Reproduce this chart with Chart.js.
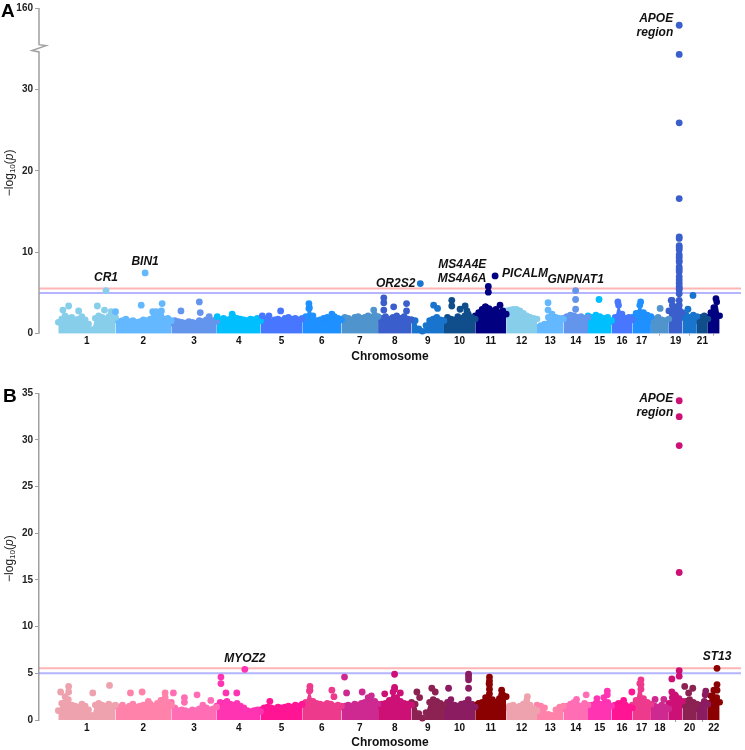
<!DOCTYPE html>
<html>
<head>
<meta charset="utf-8">
<script src="https://cdn.jsdelivr.net/npm/chart.js@4.4.1/dist/chart.umd.min.js"></script>
<style>
    html, body { margin: 0; padding: 0; background: #fff; }
    #wrap { position: relative; width: 745px; height: 750px; }
    canvas { position: absolute; left: 0; }
</style>
</head>
<body>
<div id="wrap">
    <canvas id="chartA" width="745" height="372" style="top:0"></canvas>
    <canvas id="chartB" width="745" height="378" style="top:372px"></canvas>
</div>
<script>
// ---- data ----
const chromosomes = ['1','2','3','4','5','6','7','8','9','10','11','12','13','14','15','16','17','18','19','20','21','22'];
const chrLengthMb = [249, 243, 198, 191, 181, 171, 159, 146, 141, 136, 135, 134, 115, 107, 103, 90, 81, 78, 59, 63, 48, 51];
const xLabelsShownA = [1,2,3,4,5,6,7,8,9,10,11,12,13,14,15,16,17,19,21];
const xLabelsShownB = [1,2,3,4,5,6,7,8,9,10,11,12,13,14,15,16,17,18,20,22];
const yTicksA = [0, 10, 20, 30, 160];
const yTicksB = [0, 5, 10, 15, 20, 25, 30, 35];
const thresholds = [5.55, 5.0];

// upper edge of the dense cloud of SNPs, sampled evenly along each chromosome (-log10 p)
const bandA = [
    [1.4, 1.8, 2.2, 1.9, 2.0, 1.7, 1.8, 2.1, 1.7, 1.2, 0.5, 1.9, 2.2, 2.0, 1.8, 2.1, 1.9, 2.0],
    [1.7, 1.5, 1.6, 1.8, 1.5, 1.6, 1.4, 1.5, 1.7, 1.6, 1.8, 2.0, 1.9, 2.2, 1.8, 1.9, 1.6],
    [1.3, 1.6, 1.5, 1.4, 1.3, 1.5, 1.4, 1.3, 1.6, 1.5, 1.7, 1.4, 1.6, 1.5],
    [1.8, 1.6, 1.9, 1.7, 1.8, 2.0, 1.9, 1.8, 1.7, 1.6, 1.8, 1.7, 1.9, 1.6],
    [1.6, 1.8, 1.7, 1.5, 1.7, 1.8, 1.6, 1.9, 2.0, 1.8, 1.9, 1.7, 1.8],
    [1.9, 2.1, 3.2, 2.2, 1.6, 1.7, 1.9, 2.0, 1.8, 2.1, 1.9, 1.7],
    [1.8, 2.0, 1.9, 1.7, 2.0, 2.1, 1.9, 2.0, 2.2, 2.0, 2.3, 2.1],
    [2.0, 1.9, 2.1, 1.8, 2.0, 2.2, 1.9, 2.1, 1.8, 1.7],
    [1.7, 1.6, 0.6, 0.3, 1.0, 1.6, 1.8, 2.0, 1.7, 1.6],
    [1.6, 2.0, 1.8, 1.7, 2.1, 1.9, 2.2, 2.4, 2.0, 1.8],
    [2.2, 2.6, 3.0, 3.3, 3.1, 2.8, 3.0, 2.6, 2.8, 2.4],
    [2.8, 2.9, 3.0, 3.0, 2.8, 2.5, 2.2, 2.0, 1.9, 1.8],
    [0.8, 1.0, 1.2, 2.0, 2.4, 2.0, 1.9, 1.8],
    [1.9, 2.1, 2.3, 2.2, 2.0, 2.1, 1.9, 2.0],
    [2.2, 2.0, 2.3, 2.1, 1.9, 2.0, 1.6],
    [1.5, 2.0, 3.5, 2.4, 1.9, 2.0, 1.7],
    [2.0, 2.5, 3.5, 2.6, 2.3, 2.1],
    [1.6, 1.8, 2.0, 1.7, 1.6, 1.8],
    [2.8, 3.5, 3.3, 3.0, 2.6],
    [2.0, 2.3, 2.0, 2.3, 2.1],
    [1.6, 2.0, 2.2, 1.8],
    [2.0, 2.6, 3.2, 3.9, 2.2]
];
const bandB = [
    [1.0, 1.8, 2.5, 2.2, 1.6, 1.5, 1.4, 1.7, 1.5, 1.1, 0.5, 1.6, 1.8, 1.6, 1.5, 1.7, 1.5, 1.6],
    [1.5, 1.4, 1.6, 1.3, 1.5, 1.7, 1.4, 1.5, 1.6, 1.4, 1.7, 1.5, 1.8, 2.1, 1.7, 1.9, 1.6],
    [1.9, 1.3, 1.0, 1.1, 1.0, 0.9, 1.1, 1.0, 1.2, 1.6, 1.3, 1.1, 1.2, 1.4],
    [1.5, 1.9, 1.8, 2.0, 1.7, 1.6, 1.8, 1.5, 1.3, 1.0, 0.9, 1.0, 1.1, 0.9],
    [1.1, 1.3, 1.4, 1.3, 1.2, 1.4, 1.3, 1.4, 1.5, 1.4, 1.6, 1.5, 1.7],
    [1.6, 1.9, 3.1, 2.0, 1.8, 1.7, 1.6, 1.8, 1.7, 1.5, 1.6, 1.5],
    [1.4, 1.5, 1.6, 1.5, 1.7, 1.6, 1.8, 1.9, 2.4, 2.6, 2.0, 1.7],
    [1.5, 1.7, 1.8, 2.1, 3.0, 2.4, 2.0, 1.8, 1.7, 1.6],
    [1.9, 1.7, 0.7, 0.2, 0.8, 1.9, 2.2, 2.0, 1.8, 1.6],
    [1.5, 1.9, 2.2, 1.6, 1.5, 1.7, 1.8, 2.2, 1.7, 1.4],
    [1.6, 1.8, 1.9, 2.4, 3.9, 2.2, 1.9, 2.3, 2.7, 2.5],
    [1.3, 1.5, 1.6, 1.4, 1.5, 1.7, 2.1, 1.6, 1.2, 1.0],
    [1.6, 1.5, 1.3, 0.6, 0.5, 1.1, 1.4, 1.5],
    [1.2, 1.5, 1.7, 1.9, 1.6, 1.5, 1.8, 1.6],
    [1.3, 1.6, 1.8, 1.7, 2.4, 1.9, 1.5],
    [1.5, 1.6, 1.8, 1.7, 1.6, 1.4, 1.3],
    [1.6, 2.1, 3.9, 2.3, 1.9, 1.7],
    [1.3, 1.5, 1.4, 1.6, 1.4, 1.2],
    [1.8, 2.4, 2.6, 2.3, 2.0],
    [1.6, 2.0, 2.2, 1.9, 1.7],
    [1.2, 1.6, 2.0, 1.7],
    [1.8, 2.6, 3.2, 2.4, 1.9]
];

// single SNPs standing out above the cloud: [chromosome, position Mb, -log10 p]
const hitsA = [
    [1, 20, 2.9], [1, 45, 3.4], [1, 88.5, 2.8], [1, 170, 3.4], [1, 201, 2.9], [1, 207.8, 5.3], [1, 230, 2.7],
    [2, 0, 2.7], [2, 112, 3.5], [2, 129, 7.46], [2, 162, 2.7], [2, 177, 2.7], [2, 200, 2.8], [2, 203, 3.7],
    [3, 42, 2.8], [3, 122, 3.9], [3, 126, 2.6], [3, 165, 2.1],
    [4, 2, 2.1], [4, 67, 2.4],
    [5, 7, 2.2], [5, 36, 2.2], [5, 87, 2.8],
    [6, 29, 3.7], [6, 29, 3.1], [6, 129, 2.4],
    [7, 140, 2.9],
    [8, 25, 4.4], [8, 25, 3.8], [8, 25, 2.9], [8, 68, 3.3], [8, 124, 3.7], [8, 124, 2.8],
    [9, 38, 6.16], [9, 96, 3.5], [9, 113, 3.1],
    [10, 34, 4.1], [10, 34, 3.4], [10, 70, 3.0], [10, 92, 3.4], [10, 100, 2.8],
    [11, 44, 3.3], [11, 57, 5.8], [11, 57, 5.1], [11, 86.5, 7.1], [11, 108, 3.5],
    [13, 48, 3.8], [13, 48, 2.9],
    [14, 53, 5.3], [14, 53, 4.2], [14, 53, 3.0],
    [15, 48, 4.2],
    [16, 27, 3.9],
    [17, 36, 3.9],
    [18, 40, 3.1],
    [19, 10, 4.1], [19, 14, 4.1],
    [19, 45, 107], [19, 45, 34.3], [19, 45, 25.9], [19, 45, 16.6], [19, 45, 11.9], [19, 45, 11.7],
    [19, 45, 10.8], [19, 45, 10.6], [19, 45, 10.3], [19, 45, 9.7], [19, 45, 9.4], [19, 45, 9.0],
    [19, 45, 8.8], [19, 45, 8.2], [19, 45, 7.9], [19, 45, 7.6], [19, 45, 7.0], [19, 45, 6.6],
    [19, 45, 6.2], [19, 45, 5.8], [19, 45, 5.6], [19, 45, 5.4], [19, 45, 4.9], [19, 45, 4.1],
    [19, 45, 3.5], [19, 45, 2.9],
    [20, 24, 3.0], [20, 46, 4.7],
    [22, 35, 4.3]
];
const hitsB = [
    [1, 10, 3.0], [1, 45, 3.6], [1, 45, 3.0], [1, 150, 2.9], [1, 223, 3.7],
    [2, 65, 2.9], [2, 116, 3.0], [2, 143, 2.0], [2, 216, 2.9], [2, 216, 2.4],
    [3, 9, 2.9], [3, 57, 2.4], [3, 57, 1.9], [3, 112, 2.7], [3, 172, 2.1],
    [4, 18, 4.6], [4, 18, 3.9], [4, 40, 2.9], [4, 87, 2.9], [4, 122, 5.43],
    [5, 40, 2.0],
    [6, 33.5, 3.6], [6, 33.5, 3.2], [6, 129, 3.2], [6, 138, 2.5],
    [7, 13, 4.6], [7, 22, 2.9], [7, 90, 3.0],
    [8, 29, 2.8], [8, 72, 4.9], [8, 72, 3.5], [8, 72, 3.3], [8, 97, 2.9],
    [9, 23, 3.0], [9, 35, 2.4], [9, 88, 3.4], [9, 103, 3.0],
    [10, 20, 3.4], [10, 107, 4.9], [10, 107, 4.6], [10, 107, 4.3], [10, 107, 3.4],
    [11, 62, 4.6], [11, 62, 4.2], [11, 62, 3.8], [11, 62, 3.3], [11, 62, 2.8], [11, 115, 3.2], [11, 115, 2.7],
    [12, 92, 2.5],
    [14, 57, 2.2], [14, 99, 2.7],
    [15, 39, 2.3], [15, 84, 3.1], [15, 84, 2.7],
    [16, 52, 2.1], [16, 88, 3.0],
    [17, 37.5, 4.3], [17, 37.5, 3.8], [17, 37.5, 3.3],
    [18, 18, 2.2], [18, 56, 2.2],
    [19, 13, 4.4], [19, 13, 3.0], [19, 26, 2.7],
    [19, 45, 34.2], [19, 45, 32.5], [19, 45, 29.4], [19, 45, 15.8], [19, 45, 5.3], [19, 45, 4.7],
    [20, 10, 3.6], [20, 27, 2.9], [20, 45, 3.4],
    [21, 36, 2.7], [21, 38.6, 3.1],
    [22, 39.6, 5.54], [22, 39.6, 3.8], [22, 39.6, 3.2]
];

const geneNamesA = [['CR1'], ['BIN1'], ['OR2S2'], ['MS4A4E', 'MS4A6A'], ['PICALM'], ['GNPNAT1'], ['APOE', 'region']];
const geneChrA = [1, 2, 9, 11, 11, 14, 19];
const genePosA = [207.8, 129, 38, 57, 86.5, 53, 45];
const geneLogpA = [5.3, 7.46, 6.16, 5.8, 7.1, 5.3, 107];
const geneNamesB = [['MYOZ2'], ['APOE', 'region'], ['ST13']];
const geneChrB = [4, 19, 22];
const genePosB = [122, 45, 39.6];
const geneLogpB = [5.43, 34.2, 5.54];

// ---- styles ----
const bluesA = ['#87CEEB', '#63B8FF', '#6495ED', '#00BFFF', '#4876FF', '#1E90FF', '#4F94CD', '#3A5FCD', '#1874CD', '#104E8B', '#000080'];
const pinksB = ['#EEA2AD', '#FF82AB', '#FF6EB4', '#FF34B3', '#FF1493', '#EE3A8C', '#CD2990', '#CD1076', '#8B2252', '#8B1C62', '#8B0000'];
const labelLayoutA = [
    { dx: 0, dy: -13, align: 'center' },
    { dx: 0, dy: -11, align: 'center' },
    { dx: -5, dy: 0, align: 'right' },
    { dx: -2, dy: -22, align: 'right' },
    { dx: 7, dy: -2, align: 'left' },
    { dx: 0, dy: -11, align: 'center' },
    { dx: -6, dy: -7, align: 'right' }
];
const labelLayoutB = [
    { dx: 0, dy: -11, align: 'center' },
    { dx: -6, dy: -2, align: 'right' },
    { dx: 0, dy: -12, align: 'center' }
];

const FONT = '"Liberation Sans", Arial, sans-serif';
const NARROW = '"Liberation Sans Narrow", "Liberation Sans", Arial, sans-serif';
const AXIS_GREY = '#a0a0a0';
const X_MIN = -84, X_MAX = 2972;

const chrStartMb = chrLengthMb.map((_, i) => chrLengthMb.slice(0, i).reduce((a, b) => a + b, 0));
const chrMidMb = chrLengthMb.map((len, i) => chrStartMb[i] + len / 2);

// panel A has a broken axis: everything above 35 is squeezed so that 160 sits at 40
function breakA(v) { return v <= 35 ? v : 35 + (v - 35) * 5 / 125; }
function noBreak(v) { return v; }

function buildDatasets(band, hits, colors, tf) {
    const ds = [];
    thresholds.forEach((t, i) => {
        ds.push({
            type: 'line',
            data: [{ x: X_MIN, y: tf(t) }, { x: X_MAX, y: tf(t) }],
            borderColor: i === 0 ? 'rgba(255,90,90,0.45)' : 'rgba(90,90,255,0.45)',
            borderWidth: 2,
            pointRadius: 0,
            order: 5
        });
    });
    band.forEach((vals, i) => {
        const n = vals.length, len = chrLengthMb[i];
        const color = colors[i % colors.length];
        ds.push({
            type: 'line',
            data: vals.map((v, k) => ({ x: chrStartMb[i] + len * k / (n - 1), y: tf(v) })),
            borderWidth: 0,
            borderColor: color,
            backgroundColor: color,
            fill: 'origin',
            tension: 0.25,
            pointRadius: 3.3,
            pointBorderWidth: 0,
            pointBackgroundColor: color,
            clip: false,
            order: 3
        });
    });
    ds.push({
        type: 'scatter',
        data: hits.map(h => ({ x: chrStartMb[h[0] - 1] + h[1], y: tf(h[2]) })),
        pointRadius: 3.4,
        pointBorderWidth: 0,
        pointBackgroundColor: hits.map(h => colors[(h[0] - 1) % colors.length]),
        clip: false,
        order: 1
    });
    return ds;
}

const decorPlugin = {
    id: 'decor',
    afterDraw(chart, args, opts) {
        const ctx = chart.ctx, xs = chart.scales.x, ys = chart.scales.y, area = chart.chartArea;
        ctx.save();
        // panel letter
        ctx.fillStyle = '#000';
        ctx.font = 'bold 19px ' + FONT;
        ctx.textAlign = 'left';
        ctx.textBaseline = 'alphabetic';
        ctx.fillText(opts.letter, opts.letterX, opts.letterY);

        // broken y axis line
        if (opts.broken) {
            const ax = area.left;
            ctx.strokeStyle = AXIS_GREY;
            ctx.lineWidth = 1.5;
            ctx.beginPath();
            ctx.moveTo(ax, ys.getPixelForValue(40));
            ctx.lineTo(ax, ys.getPixelForValue(35.5));
            ctx.lineTo(ax + 7, ys.getPixelForValue(35.38));
            ctx.lineTo(ax - 7, ys.getPixelForValue(34.77));
            ctx.lineTo(ax, ys.getPixelForValue(34.6));
            ctx.lineTo(ax, ys.getPixelForValue(0));
            ctx.stroke();
        }

        // y title: -log10(p)
        ctx.translate(10, (area.top + area.bottom) / 2 + 2);
        ctx.rotate(-Math.PI / 2);
        ctx.fillStyle = '#222';
        ctx.textBaseline = 'middle';
        const parts = [
            { t: '\u2212log', f: '12px ' + FONT, dy: 0 },
            { t: '10', f: '8px ' + FONT, dy: 3 },
            { t: '(', f: '12px ' + FONT, dy: 0 },
            { t: 'p', f: 'italic 12px ' + FONT, dy: 0 },
            { t: ')', f: '12px ' + FONT, dy: 0 }
        ];
        let w = 0;
        parts.forEach(p => { ctx.font = p.f; w += ctx.measureText(p.t).width; });
        let x = -w / 2;
        parts.forEach(p => { ctx.font = p.f; ctx.fillText(p.t, x, p.dy); x += ctx.measureText(p.t).width; });
        ctx.setTransform(1, 0, 0, 1, 0, 0);

        // gene labels
        ctx.font = 'italic bold 12px ' + FONT;
        ctx.fillStyle = '#111';
        ctx.textBaseline = 'middle';
        opts.names.forEach((lines, i) => {
            const px = xs.getPixelForValue(chrStartMb[opts.chr[i] - 1] + opts.pos[i]);
            const py = ys.getPixelForValue(opts.tf(opts.logp[i]));
            const lay = opts.layout[i];
            ctx.textAlign = lay.align;
            lines.forEach((line, k) => ctx.fillText(line, px + lay.dx, py + lay.dy + k * 14.4));
        });
        ctx.restore();
    }
};

function makeChart(id, band, hits, colors, tf, yMax, yTicks, shown, xAxisHeight, titlePadBottom, padTop, decor) {
    return new Chart(document.getElementById(id), {
        type: 'scatter',
        data: { datasets: buildDatasets(band, hits, colors, tf) },
        options: {
            responsive: false,
            animation: false,
            devicePixelRatio: 1,
            layout: { padding: { top: padTop, left: 0, right: 2, bottom: 0 } },
            plugins: { legend: { display: false }, tooltip: { enabled: false }, decor: decor },
            scales: {
                x: {
                    type: 'linear',
                    min: X_MIN,
                    max: X_MAX,
                    afterBuildTicks: scale => { scale.ticks = chrMidMb.map(v => ({ value: v })); },
                    afterFit: scale => { scale.height = xAxisHeight; },
                    border: { display: false },
                    grid: {
                        drawOnChartArea: false,
                        tickLength: 2,
                        tickColor: c => shown.includes(c.index + 1) ? 'rgba(0,0,0,0)' : AXIS_GREY
                    },
                    ticks: {
                        autoSkip: false,
                        maxRotation: 0,
                        padding: 0,
                        color: '#111',
                        font: { family: FONT, size: 10, weight: 'bold' },
                        callback: (v, i) => shown.includes(i + 1) ? chromosomes[i] : ''
                    },
                    title: {
                        display: true,
                        text: 'Chromosome',
                        color: '#111',
                        font: { family: FONT, size: 12, weight: 'bold' },
                        padding: { top: 0, bottom: titlePadBottom }
                    }
                },
                y: {
                    type: 'linear',
                    min: 0,
                    max: yMax,
                    afterBuildTicks: scale => { scale.ticks = yTicks.map(v => ({ value: tf(v) })); },
                    afterFit: scale => { scale.width = 39; },
                    border: { display: !decor.broken, color: AXIS_GREY, width: 1.5 },
                    grid: { drawOnChartArea: false, tickLength: 4, tickColor: AXIS_GREY },
                    ticks: {
                        padding: 2,
                        color: '#222',
                        font: { family: NARROW, size: 10, weight: 'bold' },
                        callback: (v, i) => String(yTicks[i])
                    }
                }
            }
        },
        plugins: [decorPlugin]
    });
}

makeChart('chartA', bandA, hitsA, bluesA, breakA, 40, yTicksA, xLabelsShownA, 38.3, 8, 6, {
    letter: 'A', letterX: 1, letterY: 17, broken: true, tf: breakA,
    names: geneNamesA, chr: geneChrA, pos: genePosA, logp: geneLogpA, layout: labelLayoutA
});
makeChart('chartB', bandB, hitsB, pinksB, noBreak, 35, yTicksB, xLabelsShownB, 30, 0, 21.3, {
    letter: 'B', letterX: 3, letterY: 30, broken: false, tf: noBreak,
    names: geneNamesB, chr: geneChrB, pos: genePosB, logp: geneLogpB, layout: labelLayoutB
});
</script>
</body>
</html>
